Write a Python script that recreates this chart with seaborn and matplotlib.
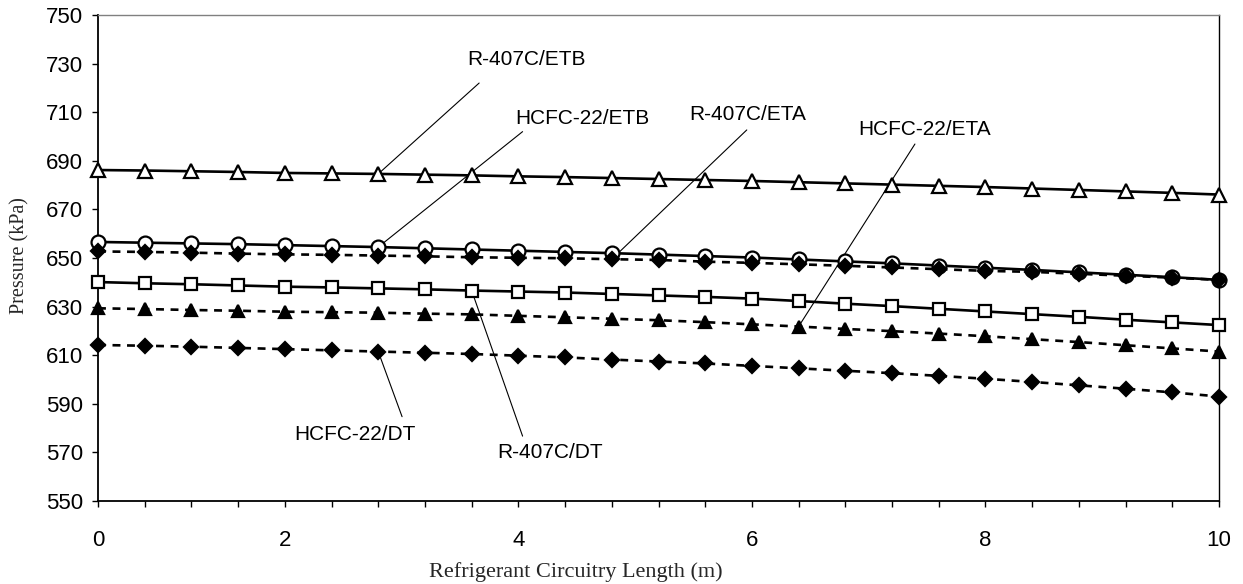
import numpy as np
import matplotlib
matplotlib.use('Agg')
import matplotlib.pyplot as plt
import seaborn as sns

# circuit length at each computed point (m)
lengths = [0, 0.5, 1, 1.5, 2, 2.4, 2.8, 3.2, 3.6, 4, 4.4, 4.8, 5.2, 5.6, 6,
           6.4, 6.8, 7.2, 7.6, 8, 8.4, 8.8, 9.2, 9.6, 10]

# pressure (kPa)
r407c_etb = [686.2, 686.0, 685.7, 685.4, 685.0, 684.8, 684.6, 684.3, 684.0, 683.6, 683.3, 682.9, 682.5,
             682.1, 681.7, 681.2, 680.7, 680.2, 679.7, 679.2, 678.6, 678.0, 677.4, 676.8, 676.1]
hcfc22_etb = [656.6, 656.3, 656.0, 655.7, 655.3, 654.9, 654.5, 654.0, 653.5, 653.0, 652.5, 652.0, 651.4,
              650.8, 650.2, 649.4, 648.6, 647.8, 646.9, 646.0, 645.1, 644.1, 643.1, 642.1, 641.0]
r407c_eta = [652.7, 652.5, 652.2, 651.8, 651.5, 651.3, 651.0, 650.7, 650.3, 650.1, 649.9, 649.5, 649.2,
             648.5, 648.0, 647.4, 646.8, 646.1, 645.4, 644.7, 644.3, 643.5, 642.7, 641.9, 641.0]
r407c_dt = [640.1, 639.6, 639.2, 638.7, 638.2, 637.9, 637.5, 637.1, 636.6, 636.2, 635.8, 635.2, 634.6,
            634.0, 633.3, 632.3, 631.2, 630.2, 629.1, 628.0, 626.9, 625.8, 624.6, 623.5, 622.4]
hcfc22_eta = [629.3, 629.0, 628.6, 628.3, 627.9, 627.7, 627.5, 627.1, 626.8, 626.2, 625.6, 625.0, 624.4,
              623.6, 622.7, 621.8, 620.8, 619.9, 618.9, 617.8, 616.6, 615.4, 614.1, 612.8, 611.5]
hcfc22_dt = [614.2, 613.9, 613.5, 613.0, 612.5, 612.0, 611.5, 611.0, 610.5, 609.8, 609.1, 608.2, 607.4,
             606.6, 605.6, 604.6, 603.6, 602.6, 601.5, 600.3, 599.0, 597.6, 596.2, 594.7, 593.0]

yticks = np.arange(550, 751, 20)
pos = np.arange(len(lengths))  # points are evenly spaced like a category axis

sns.set_style('ticks')
plt.rcParams['font.family'] = ['Liberation Sans', 'DejaVu Sans']

fig = plt.figure(figsize=(12.43, 5.84), dpi=100)
ax = fig.add_axes([98/1243, 83/584, 1121/1243, 486/584])

solid = '-'
dash = (0, (3, 2.5))
series = [
    (r407c_etb, '^', 'white', solid, 9.5),
    (hcfc22_etb, 'o', 'white', solid, 10),
    (r407c_eta, 'D', 'black', dash, 7),
    (r407c_dt, 's', 'white', solid, 8.5),
    (hcfc22_eta, '^', 'black', dash, 9),
    (hcfc22_dt, 'D', 'black', dash, 7),
]
for vals, mk, face, ls, ms in series:
    sns.lineplot(x=pos, y=vals, ax=ax, color='black', lw=1.9, linestyle=ls,
                 marker=mk, markersize=ms, markerfacecolor=face,
                 markeredgecolor='black', markeredgewidth=1.6, clip_on=False, zorder=3)

ax.set_xlim(0, len(lengths) - 1)
ax.set_ylim(550, 750)
ax.set_yticks(yticks)
ax.set_xticks(pos)
ax.set_xticklabels(['%g' % v if float(v).is_integer() and v % 2 == 0 else '' for v in lengths])
ax.tick_params(direction='out', length=4, width=1, colors='black', labelsize=16, pad=7)
ax.tick_params(axis='x', pad=17)
for s in ['left', 'bottom']:
    ax.spines[s].set_linewidth(1.3)
    ax.spines[s].set_color('black')
ax.spines['right'].set_linewidth(1)
ax.spines['right'].set_color('black')
ax.spines['top'].set_linewidth(1)
ax.spines['top'].set_color('#808080')
ax.set_xlabel('')
ax.set_ylabel('')

# labels with leader lines
notes = [
    ('R-407C/ETB', r407c_etb, 6, (9.18, 731.5), (8.16, 722.0)),
    ('HCFC-22/ETB', hcfc22_etb, 6, (10.38, 707.5), (9.09, 702.0)),
    ('R-407C/ETA', r407c_eta, 11, (13.92, 709.0), (13.89, 702.7)),
    ('HCFC-22/ETA', hcfc22_eta, 15, (17.70, 703.0), (17.49, 696.9)),
    ('HCFC-22/DT', hcfc22_dt, 6, (5.50, 577.2), (6.51, 584.7)),
    ('R-407C/DT', r407c_dt, 8, (9.68, 569.8), (9.09, 576.7)),
]
for txt, vals, i, tpos, start in notes:
    ax.annotate('', xy=(i, vals[i]), xytext=start,
                arrowprops=dict(arrowstyle='-', color='black', lw=0.8, shrinkA=0, shrinkB=0),
                zorder=2)
    ax.text(tpos[0], tpos[1], txt, ha='center', va='center', fontsize=15, color='black')

fig.text(576/1243, 1 - 572/584, 'Refrigerant Circuitry Length (m)', ha='center', va='center',
         fontsize=16, family=['Liberation Serif', 'DejaVu Serif'])
fig.text(20/1243, 1 - 256/584, 'Pressure (kPa)', ha='center', va='center', rotation=90,
         fontsize=14.5, family=['Liberation Serif', 'DejaVu Serif'])

fig.savefig('out.png', dpi=100)
